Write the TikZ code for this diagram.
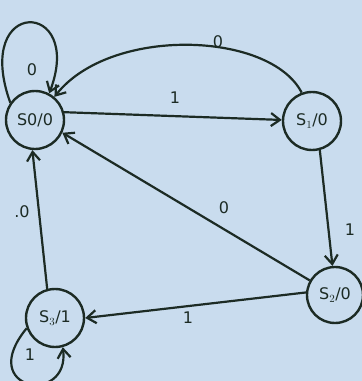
\documentclass[tikz,border=0pt]{standalone}
\usepackage{fontspec}
\setmainfont{DejaVu Sans}
\definecolor{bocetoTinta}{HTML}{1C2B24}
\definecolor{bocetoPapel}{HTML}{C9DCEE}
\usetikzlibrary{arrows.meta}
\tikzset{
	estado/.style={
		draw=bocetoTinta,
		circle,
		line width=2.4pt,
		minimum size=58pt,
		inner sep=0pt,
		text=bocetoTinta,
		font=\fontsize{16}{19}\selectfont
	},
	flecha/.style={
		-{Straight Barb[length=9pt,width=13pt]},
		line width=2.2pt,
		bocetoTinta
	},
	etiqueta/.style={
		text=bocetoTinta,
		font=\fontsize{16}{19}\selectfont
	}
}
\begin{document}
\begin{tikzpicture}[x=1pt,y=1pt]
		\fill[bocetoPapel] (0,0) rectangle (362,381);
		\useasboundingbox (0,0) rectangle (362,381);
		\node[estado] (s0) at (35,261) {S0/0};
		\node[estado] (s1) at (312,260) {S$_1$/0};
		\node[estado, minimum size=56pt] (s2) at (335,86) {S$_2$/0};
		\node[estado] (s3) at (55,63) {S$_3$/1};
		% lazos
		\draw[flecha] (s0.145) .. controls (-28,385) and (85,382) .. (s0.62);
		\node[etiqueta] (l00) at (32,311) {0};
		\draw[flecha] (s3.200) .. controls (-25,-10) and (70,-25) .. (s3.285);
		\node[etiqueta] (l33) at (30,26) {1};
		% transiciones
		\draw[flecha] (s0.15) -- (s1.178);
		\node[etiqueta] (l01) at (175,283) {1};
		\draw[flecha] (s1.110) .. controls (270,350) and (110,355) .. (s0.50);
		\node[etiqueta] (l10) at (218,339) {0};
		\draw[flecha] (s1.285) -- (s2.95);
		\node[etiqueta] (l12) at (350,151) {1};
		\draw[flecha] (s2.150) -- (s0.-25);
		\node[etiqueta] (l20) at (224,173) {0};
		\draw[flecha] (s2.175) -- (s3.0);
		\node[etiqueta] (l23) at (188,63) {1};
		\draw[flecha] (s3.105) -- (s0.-95);
		\node[etiqueta] (l30) at (22,169) {.0};
	\end{tikzpicture}
\end{document}
